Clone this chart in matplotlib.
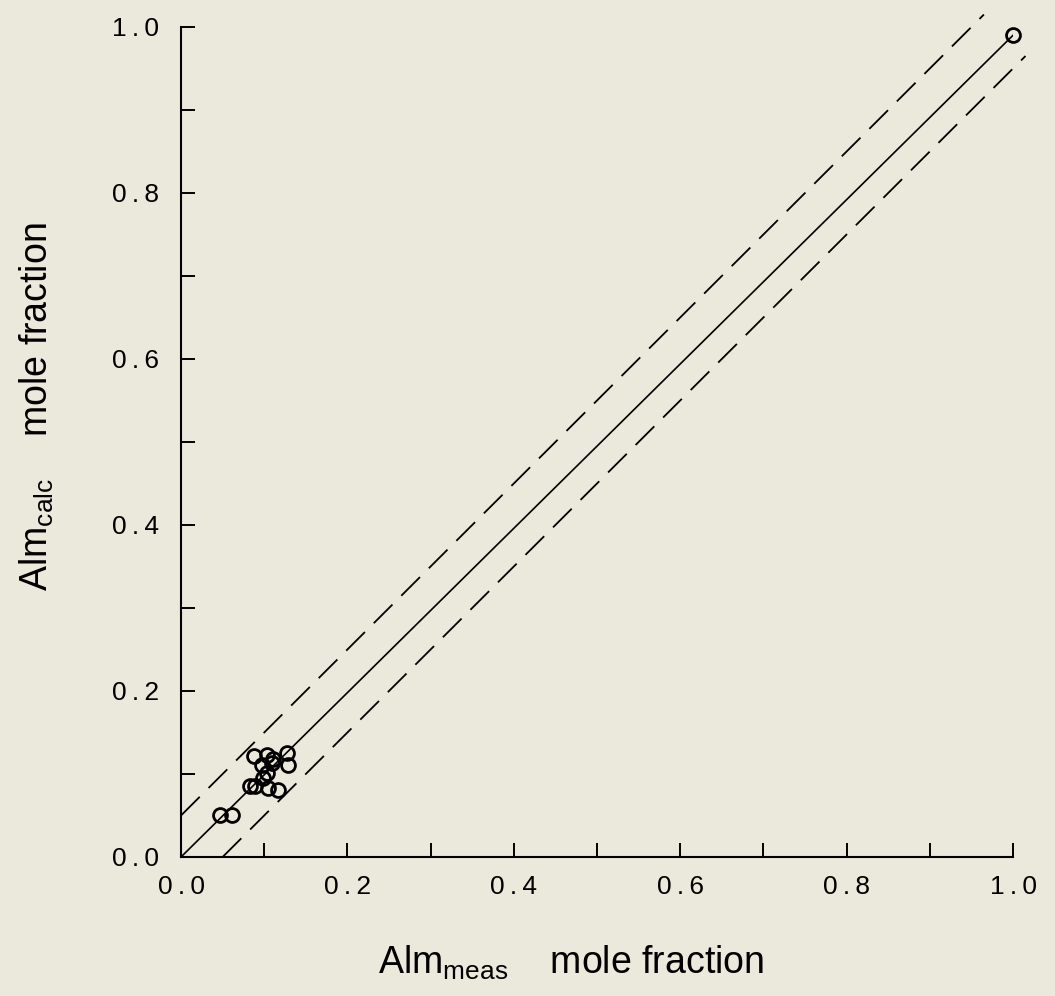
import matplotlib
matplotlib.use("Agg")
import matplotlib.pyplot as plt
import numpy as np

alm_meas = [0.047, 0.061, 0.083, 0.089, 0.105, 0.116, 0.099, 0.103, 0.097, 0.109,
            0.129, 0.088, 0.103, 0.111, 0.127, 1.000]
alm_calc = [0.051, 0.051, 0.085, 0.085, 0.083, 0.081, 0.095, 0.101, 0.111, 0.113,
            0.111, 0.122, 0.123, 0.118, 0.125, 0.990]

# 1:1 line and +/- band
band = 0.05
line_x = [0.0, 1.0]
upper_x = [0.0, 0.965]
lower_x = [band, 1.015]

paper = "#ebe8dc"
plt.rcParams["font.family"] = ["Liberation Sans", "DejaVu Sans"]
plt.rcParams["lines.scale_dashes"] = False

fig = plt.figure(figsize=(10.55, 9.96), dpi=100, facecolor=paper)
ax = fig.add_axes([0.1716, 0.1396, 0.7886, 0.8333])
ax.set_facecolor(paper)

ax.plot(line_x, [line_x[0], alm_calc[-1]], color="black", lw=1.2, zorder=2)
ax.plot(upper_x, np.array(upper_x) + band, color="black", lw=1.3,
        dashes=(19, 9), clip_on=False, zorder=2)
ax.plot(lower_x, np.array(lower_x) - band, color="black", lw=1.3,
        dashes=(19, 9), clip_on=False, zorder=2)

ax.plot(alm_meas, alm_calc, linestyle="none", marker="o", markersize=10,
        markerfacecolor="none", markeredgecolor="black", markeredgewidth=2.0,
        clip_on=False, zorder=3)

ax.set_xlim(0, 1.0)
ax.set_ylim(0, 1.0)
ax.spines["top"].set_visible(False)
ax.spines["right"].set_visible(False)
for s in ("left", "bottom"):
    ax.spines[s].set_linewidth(1.5)

major = np.arange(0, 1.01, 0.2)
minor = np.arange(0.1, 1.0, 0.2)
sp = "\u2009"
labels = [f"{v:.1f}".replace(".", sp + "." + sp) for v in major]
ax.set_xticks(major)
ax.set_yticks(major)
ax.set_xticks(minor, minor=True)
ax.set_yticks(minor, minor=True)
ax.set_xticklabels(labels)
ax.set_yticklabels(labels)
ax.tick_params(which="both", direction="in", length=10, width=1.4,
               labelsize=19)
ax.tick_params(axis="x", pad=13)
ax.tick_params(axis="y", pad=16)

ax.set_xlabel("Alm$_{\\mathregular{meas}}$    mole fraction", fontsize=27, va="top")
ax.set_ylabel("Alm$_{\\mathregular{calc}}$    mole fraction", fontsize=27, va="bottom")
ax.xaxis.set_label_coords(0.469, -0.104)
ax.yaxis.set_label_coords(-0.150, 0.542)

fig.savefig("out.png", dpi=100, facecolor=paper)
